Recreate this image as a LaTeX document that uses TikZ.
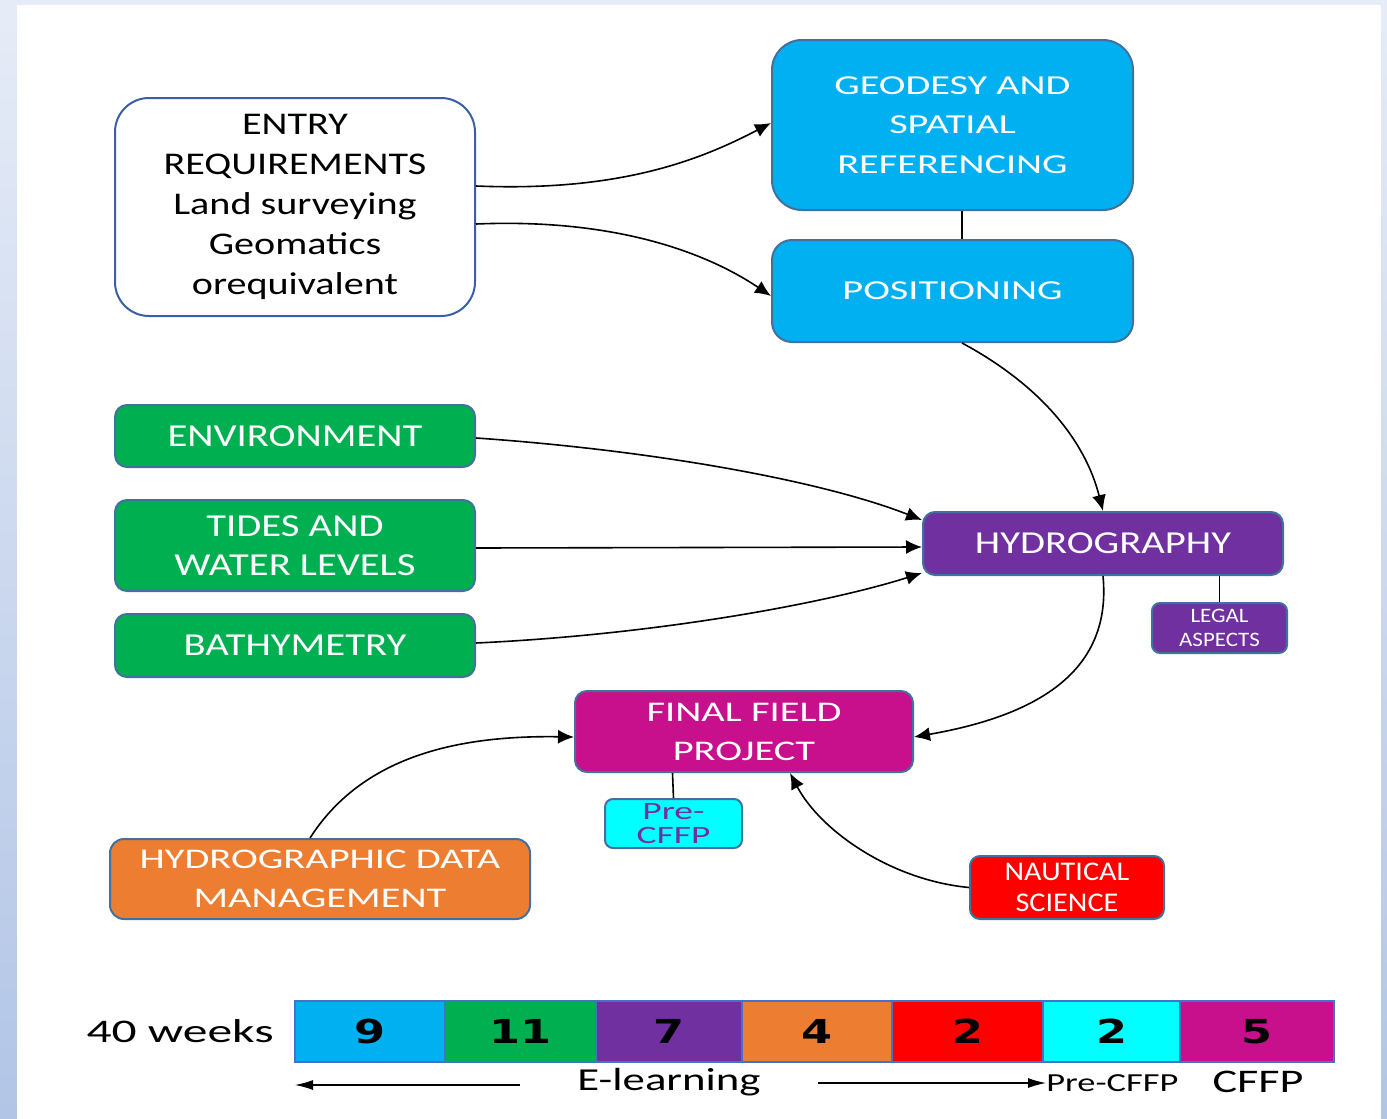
\documentclass[tikz,border=0pt]{standalone}
\usepackage{fontspec}
\setmainfont{Carlito}
\newfontfamily\fsA[FakeStretch=1.27]{Carlito}
\newfontfamily\fsB[FakeStretch=1.47]{Carlito}
\newfontfamily\fsD[FakeStretch=1.42]{Carlito}
\newfontfamily\fsE[FakeStretch=1.12]{Carlito}
\newfontfamily\fsF[FakeStretch=1.4]{Carlito}
\newfontfamily\fsG[FakeStretch=1.5]{Carlito}
\newfontfamily\fsN[FakeStretch=1.35]{DejaVu Sans}
\usetikzlibrary{arrows.meta,calc}
\definecolor{cblue}{HTML}{00B0F0}
\definecolor{cgreen}{HTML}{00B050}
\definecolor{cpurple}{HTML}{7030A0}
\definecolor{corange}{HTML}{ED7D31}
\definecolor{cred}{HTML}{FF0000}
\definecolor{ccyan}{HTML}{00FFFF}
\definecolor{cmag}{RGB}{200,16,140}
\definecolor{bord}{HTML}{41719C}
\definecolor{entrybord}{HTML}{3A5FA6}
\definecolor{segbord}{HTML}{4472C4}
\definecolor{bgtop}{HTML}{E6ECF7}
\definecolor{bgbot}{HTML}{B2C5E6}
\begin{document}
\begin{tikzpicture}[x=0.5pt,y=-0.5pt,
  box/.style={draw=bord, line width=1pt, rounded corners=6pt, inner sep=0pt, align=center, text=white},
  conn/.style={line width=0.8pt, -{Latex[length=8pt,width=7pt]}},
  link/.style={line width=0.8pt},
  seg/.style={draw=segbord, line width=0.7pt, minimum height=30.5pt, inner sep=0pt, font=\fsN\bfseries\fontsize{16.5}{20}\selectfont},
  barrow/.style={line width=0.6pt, -{Latex[length=9pt,width=5pt]}},
  btext/.style={inner sep=0pt, font=\fsF\fontsize{16.5}{20}\selectfont}]
% background
\shade[top color=bgtop,bottom color=bgbot] (0,0) rectangle (1387,1119);
\fill[white] (17,5) rectangle (1381,1119);
\useasboundingbox (0,0) rectangle (1387,1119);

% nodes
\node[box, fill=white, text=black, draw=entrybord, rounded corners=17pt, minimum width=180pt, minimum height=109pt, font=\fsA\fontsize{15.8}{20}\selectfont] (entry) at (295,207) {ENTRY\\REQUIREMENTS\\Land surveying\\Geomatics\\orequivalent};
\node[box, fill=cblue, rounded corners=15pt, minimum width=180.5pt, minimum height=85pt, font=\fsB\fontsize{13.7}{19.75}\selectfont] (geo) at (952.5,125) {GEODESY AND\\SPATIAL\\REFERENCING};
\node[box, fill=cblue, rounded corners=10pt, minimum width=180.5pt, minimum height=51pt, font=\fsB\fontsize{13.7}{19.75}\selectfont] (pos) at (952.5,291) {POSITIONING};
\node[box, fill=cgreen, minimum width=180pt, minimum height=31pt, font=\fsA\fontsize{16}{19.5}\selectfont] (env) at (295,436) {ENVIRONMENT};
\node[box, fill=cgreen, minimum width=180pt, minimum height=45.5pt, font=\fsA\fontsize{16}{19.5}\selectfont] (tides) at (295,545.5) {TIDES AND\\WATER LEVELS};
\node[box, fill=cgreen, minimum width=180pt, minimum height=31.5pt, font=\fsA\fontsize{16}{19.5}\selectfont] (bathy) at (295,645.5) {BATHYMETRY};
\node[box, fill=cpurple, minimum width=180pt, minimum height=31.5pt, font=\fsA\fontsize{16}{19.5}\selectfont] (hydro) at (1103,543.5) {HYDROGRAPHY};
\node[box, fill=cpurple, rounded corners=4pt, minimum width=67.5pt, minimum height=25pt, font=\fsE\fontsize{10.25}{12}\selectfont] (legal) at (1219.5,628) {LEGAL\\ASPECTS};
\node[box, fill=cmag, minimum width=169pt, minimum height=40.5pt, font=\fsD\fontsize{14.25}{19.5}\selectfont] (ffp) at (744,731.5) {FINAL FIELD\\PROJECT};
\node[box, fill=ccyan, text=cpurple, rounded corners=4pt, minimum width=68.5pt, minimum height=24.5pt, font=\fsG\fontsize{12.5}{12}\selectfont] (pre) at (673.5,823.5) {Pre-\\CFFP};
\node[box, fill=corange, rounded corners=7pt, minimum width=210pt, minimum height=40pt, font=\fsD\fontsize{14.25}{19.5}\selectfont] (hdm) at (320,879) {HYDROGRAPHIC DATA\\MANAGEMENT};
\node[box, fill=cred, rounded corners=5pt, minimum width=97pt, minimum height=31.5pt, font=\fsE\fontsize{13.5}{15.5}\selectfont] (naut) at (1067,887.5) {NAUTICAL\\SCIENCE};

% plain links
\draw[link] ([xshift=4.75pt]geo.south) -- ([xshift=4.75pt]pos.north);
\draw[link] (legal.north) -- (legal.north |- hydro.south);
\draw[link] (pre.north) -- ([xshift=-0.5pt]pre.north |- ffp.south);

% arrows
\draw[conn] ([yshift=10.5pt]entry.east) .. controls (620,192) and (700,160) .. ([yshift=1pt]geo.west);
\draw[conn] ([yshift=-8.5pt]entry.east) .. controls (620,218) and (710,255) .. ([yshift=-2.5pt]pos.west);
\draw[conn] ([xshift=4.75pt]pos.south) .. controls (1040,385) and (1085,440) .. (hydro.north);
\draw[conn] ([yshift=-1pt]env.east) .. controls (650,450) and (820,480) .. ([yshift=11.75pt]hydro.west);
\draw[conn] ([yshift=-1.25pt]tides.east) -- ([yshift=-1.75pt]hydro.west);
\draw[conn] ([yshift=1.25pt]bathy.east) .. controls (650,635) and (820,605) .. ([yshift=-14.75pt]hydro.west);
\draw[conn] (hydro.south) .. controls (1112,670) and (1040,715) .. ([yshift=-2.75pt]ffp.east);
\draw[conn] ([xshift=-5pt]hdm.north) .. controls (360,760) and (450,735) .. ([yshift=-2.75pt]ffp.west);
\draw[conn] (naut.west) .. controls (890,880) and (820,830) .. ([xshift=23pt]ffp.south);

% bar
\node[seg, fill=cblue,   minimum width=75pt]   (b1) at (370,1031.5)   {9};
\node[seg, fill=cgreen,  minimum width=75.5pt] (b2) at (520.5,1031.5) {11};
\node[seg, fill=cpurple, minimum width=73pt]   (b3) at (669,1031.5)   {7};
\node[seg, fill=corange, minimum width=75pt]   (b4) at (817,1031.5)   {4};
\node[seg, fill=cred,    minimum width=75.5pt] (b5) at (967.5,1031.5) {2};
\node[seg, fill=ccyan,   minimum width=68.5pt] (b6) at (1111.5,1031.5){2};
\node[seg, fill=cmag,    minimum width=77pt]   (b7) at (1257,1031.5)  {5};

\node[btext, font=\fsG\fontsize{16.5}{20}\selectfont] (wk) at (180,1031) {40 weeks};
\node[btext, font=\fsF\fontsize{16}{20}\selectfont] (el) at (669,1082) {E-learning};
\node[btext, font=\fsF\fontsize{13}{15}\selectfont, anchor=west] (pcb) at (1046,1083) {Pre-CFFP};
\node[btext] (cffp) at (1258,1082) {CFFP};
\coordinate (el0) at (295,1085);
\coordinate (el1) at (520,1085);
\coordinate (er0) at (818,1083);
\draw[barrow] (el1) -- (el0);
\draw[barrow] (er0) -- (pcb.west);
\end{tikzpicture}
\end{document}
